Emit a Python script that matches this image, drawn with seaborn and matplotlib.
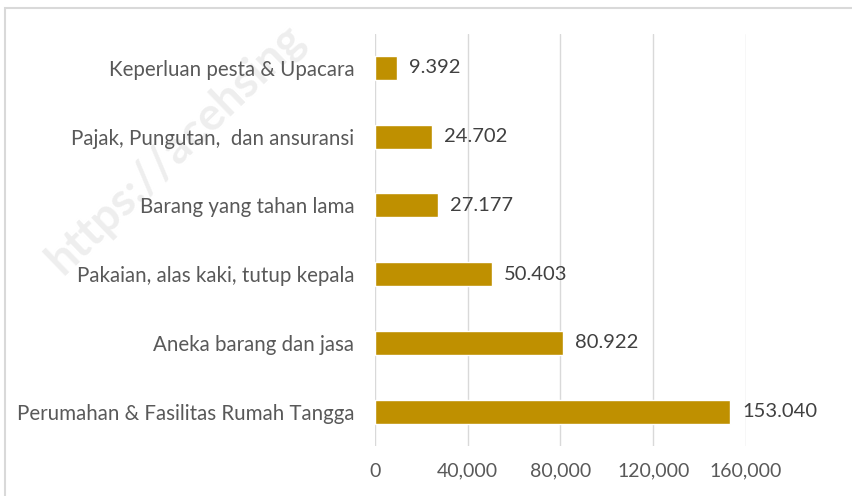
import numpy as np
import pandas as pd
import matplotlib.pyplot as plt
import seaborn as sns
from matplotlib.patches import Rectangle

# data
categories = ["Keperluan pesta & Upacara",
              "Pajak, Pungutan,  dan ansuransi",
              "Barang yang tahan lama",
              "Pakaian, alas kaki, tutup kepala",
              "Aneka barang dan jasa",
              "Perumahan & Fasilitas Rumah Tangga"]
values = [9392, 24702, 27177, 50403, 80922, 153040]
value_labels = ["9.392", "24.702", "27.177", "50.403", "80.922", "153.040"]
xticks = [0, 40000, 80000, 120000, 160000]
xtick_labels = ["0", "40,000", "80,000", "120,000", "160,000"]

df = pd.DataFrame({"kategori": categories, "nilai": values})

sns.set_style("white")
plt.rcParams['font.family'] = ['Lato', 'DejaVu Sans']
text_color = "#595959"

fig = plt.figure(figsize=(8.53, 4.96), dpi=100)
ax = fig.add_axes([375/853, 1-446/496, (746-375)/853, (446-33.6)/496])

# watermark behind everything
fig.text(0.205, 0.70, "https://acehsing", rotation=44, fontsize=33, fontweight="bold",
         color="#eeeeee", ha="center", va="center", zorder=-1)

sns.barplot(data=df, x="nilai", y="kategori", orient="h", color="#BF9000",
            saturation=1, width=0.35, ax=ax, zorder=3)

for i, (v, lab) in enumerate(zip(values, value_labels)):
    ax.text(v + 5200, i, lab, va="center", ha="left", fontsize=14.5,
            color="#404040", zorder=4)

ax.set_xlim(0, 160000)
ax.set_ylim(5.5, -0.5)
ax.set_xticks(xticks)
ax.set_xticklabels(xtick_labels)
ax.xaxis.grid(True, color="#d9d9d9", linewidth=1)
ax.set_axisbelow(True)
for s in ax.spines.values():
    s.set_visible(False)
ax.tick_params(axis="x", length=0, pad=12, labelsize=14, labelcolor=text_color)
ax.tick_params(axis="y", length=0, pad=15, labelsize=14.8, labelcolor=text_color)
ax.set_xlabel("")
ax.set_ylabel("")
ax.patch.set_alpha(0)

# outer chart frame
fig.patches.append(Rectangle((5/853, -0.05), 1.0, 1 - 8/496 + 0.05,
                             transform=fig.transFigure, fill=False,
                             edgecolor="#d9d9d9", linewidth=1.5, zorder=-2))

fig.savefig("out.png", dpi=100)
